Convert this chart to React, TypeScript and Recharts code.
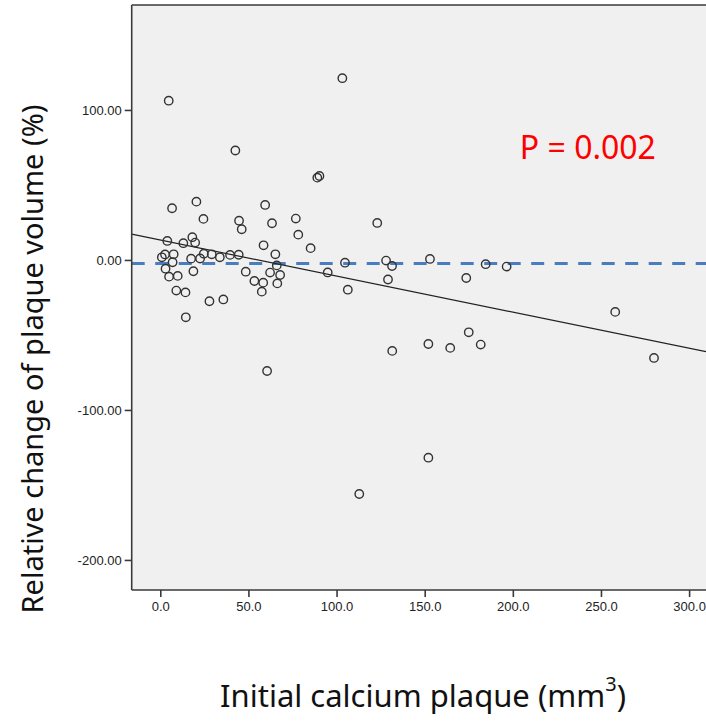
import React from 'react';
import {
  ScatterChart,
  Scatter,
  XAxis,
  YAxis,
  CartesianGrid,
  ReferenceLine,
  ReferenceDot,
  Label,
} from 'recharts';

// Initial calcium plaque (mm^3)
const calcium = [
  4.5, 103.0, 42.3, 88.8, 90.0, 6.4, 20.2, 24.2, 59.2, 44.4,
  45.9, 63.1, 76.6, 78.0, 85.0, 122.8, 3.7, 12.8, 17.9, 19.5,
  58.3, 0.6, 2.4, 7.3, 6.7, 17.2, 22.3, 24.4, 28.9, 33.5,
  39.3, 44.2, 65.0, 65.8, 2.7, 4.7, 9.6, 18.5, 48.2, 53.1,
  58.1, 57.3, 62.0, 67.7, 66.1, 8.8, 14.0, 27.6, 35.5, 94.7,
  104.5, 106.1, 14.2, 60.3, 127.8, 131.2, 128.9, 152.7, 173.3, 184.3,
  196.2, 131.3, 151.8, 164.2, 174.7, 181.5, 257.8, 279.8, 151.8, 112.6,
];
// Relative change of plaque volume (%)
const change = [
  106.5, 121.5, 73.3, 55.2, 56.3, 34.8, 39.2, 27.7, 37.0, 26.5,
  20.8, 24.8, 27.9, 17.2, 8.2, 25.0, 13.0, 11.5, 15.5, 11.9,
  10.1, 2.1, 4.0, 4.1, -1.2, 1.2, 1.3, 4.5, 4.1, 2.1,
  3.7, 3.8, 4.1, -3.3, -5.5, -10.8, -10.3, -7.2, -7.5, -13.7,
  -14.8, -20.8, -8.1, -9.7, -15.3, -20.1, -21.3, -27.2, -26.0, -8.0,
  -1.5, -19.5, -37.9, -73.7, -0.1, -3.7, -12.7, 1.0, -11.7, -2.5,
  -4.1, -60.3, -55.7, -58.3, -47.9, -56.1, -34.3, -65.0, -131.5, -155.7,
];

// Fitted regression line endpoints
const regX = [-16.5, 309.3];
const regY = [17.5, -60.8];

const xTicks = [0, 50, 100, 150, 200, 250, 300];
const yTicks = [-200, -100, 0, 100];
const xDomain = [-16.5, 309.3];
const yDomain = [-219.7, 170.3];
const refValue = -2;
const pLabel = 'P = 0.002';
const pPos = { x: 242.3, y: 75 };

const points = calcium.map((x, i) => ({ x, y: change[i] }));

const tickFont = { fontFamily: '"Liberation Sans", Arial, sans-serif', fontSize: 13, fill: '#222' };
const labelFont = '"Noto Sans", sans-serif';

const Ring = (props: any) => (
  <circle cx={props.cx} cy={props.cy} r={4.2} fill="none" stroke="#333" strokeWidth={1.4} />
);

export default function App() {
  return (
    <div style={{ position: 'absolute', left: 0, top: 0, width: 706, height: 721, background: '#fff' }}>
      <ScatterChart width={706} height={721} margin={{ top: 5, right: 0, bottom: 0, left: 0 }}>
        <CartesianGrid horizontal={false} vertical={false} fill="#f0f0f0" />
        <XAxis
          type="number"
          dataKey="x"
          domain={xDomain}
          ticks={xTicks}
          allowDataOverflow
          height={131}
          tickFormatter={(v: number) => v.toFixed(1)}
          tick={tickFont}
          tickSize={7}
          tickMargin={5}
          axisLine={{ stroke: '#3a3a3a', strokeWidth: 1.6 }}
          tickLine={{ stroke: '#3a3a3a', strokeWidth: 1.6 }}
        >
          <Label
            content={() => (
              <text x={423} y={707} textAnchor="middle" fontFamily={labelFont} fontSize={31} fill="#111">
                <tspan>Initial calcium plaque (mm</tspan>
                <tspan fontSize={20} dy={-16}>3</tspan>
                <tspan dy={16}>)</tspan>
              </text>
            )}
          />
        </XAxis>
        <YAxis
          type="number"
          dataKey="y"
          domain={yDomain}
          ticks={yTicks}
          allowDataOverflow
          width={131.7}
          tickFormatter={(v: number) => v.toFixed(2)}
          tick={tickFont}
          tickSize={7}
          tickMargin={3}
          axisLine={{ stroke: '#3a3a3a', strokeWidth: 1.6 }}
          tickLine={{ stroke: '#3a3a3a', strokeWidth: 1.6 }}
        >
          <Label
            content={() => (
              <text
                x={42.5}
                y={359}
                transform="rotate(-90 42.5 359)"
                textAnchor="middle"
                fontFamily={labelFont}
                fontSize={29}
                fill="#111"
              >
                Relative change of plaque volume (%)
              </text>
            )}
          />
        </YAxis>
        <ReferenceLine y={yDomain[1]} stroke="#3a3a3a" strokeWidth={1.6} />
        <ReferenceLine
          y={refValue}
          stroke="#4a7dbf"
          strokeWidth={3}
          strokeDasharray="13 10.5"
        />
        <ReferenceLine
          segment={[
            { x: regX[0], y: regY[0] },
            { x: regX[1], y: regY[1] },
          ]}
          stroke="#222"
          strokeWidth={1.2}
        />
        <Scatter data={points} shape={Ring} isAnimationActive={false} />
        <ReferenceDot
          x={pPos.x}
          y={pPos.y}
          r={0}
          fill="none"
          stroke="none"
          label={(p: any) => (
            <text
              x={p.viewBox ? p.viewBox.x + (p.viewBox.width || 0) / 2 : 0}
              y={p.viewBox ? p.viewBox.y + (p.viewBox.height || 0) / 2 + 11 : 0}
              textAnchor="middle"
              fontFamily={labelFont}
              fontSize={32}
              fill="#ff0000"
            >
              {pLabel}
            </text>
          )}
        />
      </ScatterChart>
    </div>
  );
}
